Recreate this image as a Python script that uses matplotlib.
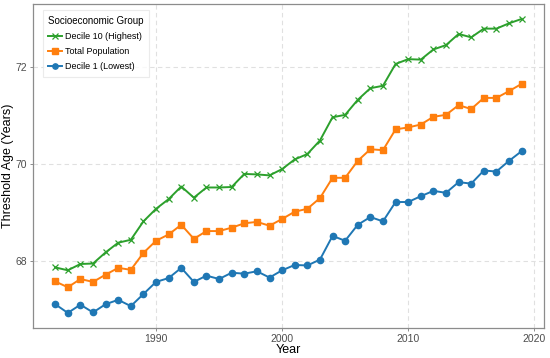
import matplotlib
matplotlib.use('Agg')
import matplotlib.pyplot as plt

plt.rcParams['font.family'] = ['Liberation Sans', 'DejaVu Sans']

years = list(range(1982, 2020))

# decile 10 (highest)
decile10 = [67.87, 67.81, 67.94, 67.95, 68.18, 68.38, 68.44, 68.82, 69.08, 69.28,
            69.54, 69.31, 69.52, 69.52, 69.53, 69.80, 69.79, 69.77, 69.90, 70.10,
            70.21, 70.49, 70.97, 71.02, 71.33, 71.57, 71.62, 72.07, 72.17, 72.16,
            72.37, 72.46, 72.69, 72.62, 72.80, 72.80, 72.91, 73.00]

# total population
total = [67.58, 67.46, 67.63, 67.57, 67.72, 67.86, 67.82, 68.17, 68.42, 68.55,
         68.75, 68.46, 68.62, 68.62, 68.69, 68.78, 68.81, 68.73, 68.87, 69.02,
         69.08, 69.30, 69.72, 69.72, 70.07, 70.31, 70.29, 70.72, 70.76, 70.82,
         70.98, 71.02, 71.22, 71.14, 71.37, 71.37, 71.51, 71.66]

# decile 1 (lowest)
decile1 = [67.11, 66.93, 67.10, 66.94, 67.11, 67.20, 67.07, 67.32, 67.57, 67.65,
           67.86, 67.57, 67.70, 67.63, 67.76, 67.74, 67.79, 67.66, 67.81, 67.92,
           67.91, 68.03, 68.52, 68.42, 68.75, 68.91, 68.82, 69.22, 69.22, 69.34,
           69.45, 69.41, 69.63, 69.60, 69.87, 69.85, 70.07, 70.27]

x_ticks = [1990, 2000, 2010, 2020]
y_ticks = [68, 70, 72]

fig = plt.figure(figsize=(5.5, 3.58), dpi=100)
ax = fig.add_axes([0.06, 0.084, 0.929, 0.905])

ax.plot(years, decile10, color='#2ca02c', marker='x', markersize=4.5, linewidth=1.4,
        markeredgewidth=0.9, label='Decile 10 (Highest)')
ax.plot(years, total, color='#ff7f0e', marker='s', markersize=4.5, linewidth=1.4,
        label='Total Population')
ax.plot(years, decile1, color='#1f77b4', marker='o', markersize=4.5, linewidth=1.4,
        label='Decile 1 (Lowest)')

ax.set_xlim(1980.24, 2020.77)
ax.set_ylim(66.62, 73.31)
ax.set_xticks(x_ticks)
ax.set_yticks(y_ticks)

ax.grid(True, linestyle=(0, (4, 3)), color='#e0e0e0', linewidth=0.8)
ax.set_axisbelow(True)
for s in ax.spines.values():
    s.set_color('#8c8c8c')
    s.set_linewidth(0.9)
ax.tick_params(axis='both', colors='#8c8c8c', labelcolor='#4d4d4d',
               labelsize=7.5, length=2.5, width=0.7, pad=2)

ax.set_xlabel('Year', fontsize=9, labelpad=0)
ax.set_ylabel('Threshold Age (Years)', fontsize=9, labelpad=1)

leg = ax.legend(title='Socioeconomic Group', loc='upper left', fontsize=6.5,
                title_fontsize=7.0, frameon=True, fancybox=False,
                bbox_to_anchor=(0.019, 0.981), borderaxespad=0, borderpad=0.6,
                labelspacing=0.7, handlelength=1.5, handletextpad=0.4,
                markerscale=0.85)
leg._legend_box.align = 'left'
leg.get_frame().set_edgecolor('#e6e6e6')
leg.get_frame().set_linewidth(0.8)

fig.savefig('out.png', dpi=100)
